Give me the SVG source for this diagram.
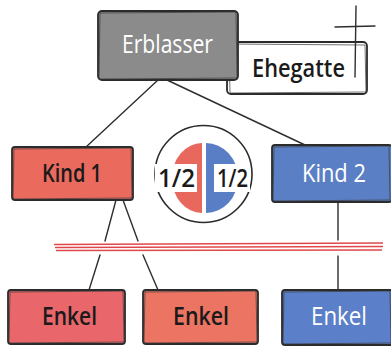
<svg xmlns="http://www.w3.org/2000/svg" width="391" height="346" viewBox="0 0 391 346">
  <style>
    .box { stroke: #2b2b2b; stroke-width: 1.8; stroke-linejoin: round; }
    .sketch { fill: none; stroke: #3a3a3a; stroke-width: 0.9; opacity: 0.8; }
    .lbl { font-family: "Open Sans", "Liberation Sans", sans-serif; font-size: 25px; font-weight: 600; }
    .dark { fill: #1a1a1a; }
    .light { fill: #ffffff; font-weight: 400; }
    .link { stroke: #2e2e2e; stroke-width: 1.4; fill: none; stroke-linecap: round; }
    .cut { stroke: #e0474a; stroke-width: 1.3; fill: none; }
  </style>
  <rect width="391" height="346" fill="#ffffff"/>

  <!-- connectors -->
  <g id="connectors">
    <line class="link" x1="158" y1="80" x2="86" y2="147"/>
    <line class="link" x1="167" y1="80" x2="305" y2="145"/>
    <line class="link" x1="116" y1="200" x2="105" y2="241"/>
    <line class="link" x1="100" y1="255" x2="89" y2="290"/>
    <line class="link" x1="123" y1="200" x2="138" y2="241"/>
    <line class="link" x1="143" y1="255" x2="158" y2="290"/>
    <line class="link" x1="338" y1="202" x2="338" y2="240"/>
    <line class="link" x1="338" y1="256" x2="338" y2="290"/>
    <!-- cut line between children and grandchildren -->
    <path class="cut" d="M54 244.5 L383 243"/>
    <path class="cut" d="M55 247.5 L383 246.5"/>
    <path class="cut" d="M56 250.5 L382 250"/>
  </g>

  <!-- spouse, behind the deceased -->
  <g id="ehegatte">
    <rect class="box" x="227" y="42" width="140" height="52" rx="4" fill="#ffffff"/>
    <path class="sketch" d="M229 44 L365 45 L366 92 L230 93 Z"/>
    <text class="lbl dark" x="252" y="77" font-size="21" font-weight="700" textLength="93" lengthAdjust="spacingAndGlyphs">Ehegatte</text>
    <line class="link" x1="356" y1="6" x2="355" y2="77" stroke-width="2"/>
    <line class="link" x1="335" y1="27" x2="375" y2="26" stroke-width="2"/>
  </g>

  <g id="erblasser">
    <rect class="box" x="98" y="11" width="140" height="69" rx="4" fill="#8b8b8b"/>
    <path class="sketch" d="M100 13 L236 12 L237 78 L99 79 Z"/>
    <text class="lbl light" x="122" y="53" textLength="91" lengthAdjust="spacingAndGlyphs">Erblasser</text>
  </g>

  <g id="kind1">
    <rect class="box" x="12" y="147" width="121" height="53" rx="3" fill="#ea6a5e"/>
    <path class="sketch" d="M14 149 L131 148 L132 198 L13 199 Z"/>
    <text class="lbl dark" x="42" y="182" textLength="60" lengthAdjust="spacingAndGlyphs">Kind 1</text>
  </g>

  <g id="kind2">
    <rect class="box" x="272" y="145" width="120" height="57" rx="3" fill="#5b7fc4"/>
    <path class="sketch" d="M274 147 L389 146 L390 200 L273 201 Z"/>
    <text class="lbl light" x="302" y="182" textLength="64" lengthAdjust="spacingAndGlyphs">Kind 2</text>
  </g>

  <!-- share diagram -->
  <g id="anteile">
    <circle cx="203.5" cy="174" r="48.5" fill="#ffffff" stroke="#2b2b2b" stroke-width="1.6"/>
    <path d="M202 143 A30 35 0 0 0 202 213 Z" fill="#e8685e"/>
    <path d="M206 143 A32 35 0 0 1 206 213 Z" fill="#5a7ec6"/>
    <rect x="155" y="164" width="42" height="28" fill="#ffffff"/>
    <rect x="214" y="164" width="36" height="28" fill="#ffffff"/>
    <text class="lbl dark" x="158" y="187" textLength="37" lengthAdjust="spacingAndGlyphs">1/2</text>
    <text class="lbl dark" x="217" y="187" textLength="31" lengthAdjust="spacingAndGlyphs">1/2</text>
  </g>

  <g id="enkel1">
    <rect class="box" x="8" y="290" width="117" height="54" rx="3" fill="#e9676a"/>
    <path class="sketch" d="M10 292 L123 291 L124 342 L9 343 Z"/>
    <text class="lbl dark" x="42" y="325" textLength="55" lengthAdjust="spacingAndGlyphs">Enkel</text>
  </g>

  <g id="enkel2">
    <rect class="box" x="143" y="290" width="115" height="54" rx="3" fill="#ec7463"/>
    <path class="sketch" d="M145 292 L256 291 L257 342 L144 343 Z"/>
    <text class="lbl dark" x="173" y="325" textLength="56" lengthAdjust="spacingAndGlyphs">Enkel</text>
  </g>

  <g id="enkel3">
    <rect class="box" x="282" y="290" width="112" height="55" rx="3" fill="#5b7fc8"/>
    <path class="sketch" d="M284 292 L390 291 L391 343 L283 344 Z"/>
    <text class="lbl light" x="311" y="325" textLength="56" lengthAdjust="spacingAndGlyphs">Enkel</text>
  </g>
</svg>
